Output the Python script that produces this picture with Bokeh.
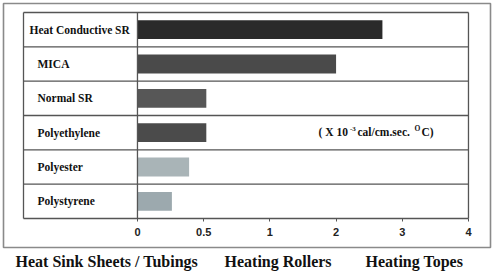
import numpy as np
from bokeh.plotting import figure
from bokeh.models import Range1d, LinearAxis, FixedTicker, ColumnDataSource
from bokeh.core.properties import value
from bokeh.embed import file_html
from bokeh.resources import INLINE

# ---- data ----
categories = ["Heat Conductive SR", "MICA", "Normal SR", "Polyethylene", "Polyester", "Polystyrene"]
conductivity = [2.70, 2.00, 0.52, 0.52, 0.39, 0.26]          # x 10^-3 cal/cm.sec.°C
tick_values = [0, 0.5, 1, 2, 3, 4]
tick_labels = ["0", "0.5", "1", "2", "3", "4"]
bar_colors = ["#2a2a2a", "#4a4a4a", "#575757", "#4b4b4b", "#a9b4b7", "#9ca9ae"]
label_indent = [6, 14, 14, 14, 14, 14]
group_labels = ["Heat Sink Sheets / Tubings", "Heating Rollers", "Heating Topes"]

W, H = 493, 271
# axis is evenly spaced between the tick values (piecewise scale)
tick_pos = np.arange(len(tick_values), dtype=float)
X0, X1 = -2.069, 5.378
Y0, Y1 = -1.544, 6.350

def px_x(px):
    return X0 + px / W * (X1 - X0)

def px_y(py):
    return Y1 - py / H * (Y1 - Y0)

n = len(categories)
row_y = [n - 0.5 - i for i in range(n)]
bar_right = np.interp(conductivity, tick_values, tick_pos)
label_left = px_x(23)

p = figure(width=W, height=H, x_range=Range1d(X0, X1), y_range=Range1d(Y0, Y1),
           x_axis_type=None, y_axis_type=None, toolbar_location=None,
           output_backend="svg", min_border=0)
p.outline_line_color = None
p.background_fill_color = "white"
p.border_fill_color = "white"

# outer frame
p.quad(left=[px_x(3)], right=[px_x(490)], top=[px_y(3)], bottom=[px_y(247)],
       fill_color=None, line_color="#8a8a8a", line_width=1.6)

# bars
src = ColumnDataSource(dict(y=row_y, right=bar_right, color=bar_colors,
                            cat=categories, indent=label_indent,
                            lx=[label_left] * n))
p.hbar(y="y", left=0, right="right", height=0.55, fill_color="color",
       line_color=None, source=src)

# table lines
hx0 = [label_left] * (n + 1)
hx1 = [tick_pos[-1]] * (n + 1)
hy = list(range(n + 1))
p.segment(x0=hx0, y0=hy, x1=hx1, y1=hy, line_color="#555555", line_width=1.3)
vx = [label_left, 0, tick_pos[-1]]
p.segment(x0=vx, y0=[0] * 3, x1=vx, y1=[n] * 3, line_color="#555555", line_width=1.3)

# category labels
p.text(x="lx", y="y", text="cat", x_offset="indent", source=src,
       text_align="left", text_baseline="middle",
       text_font=value("Liberation Serif"), text_font_style="bold",
       text_font_size="11.5px", text_color="#111111")

# unit note
note_y = px_y(131)
note_parts = [("( X 10", 318, 0, "11.5px"), ("-3", 349.5, -3, "7px"),
              ("cal/cm.sec.", 357, 0, "11.5px"), ("O", 414, -3, "7.5px"),
              ("C)", 421, 0, "11.5px")]
for txt, xpx, dy, fs in note_parts:
    p.text(x=[px_x(xpx)], y=[note_y], text=[txt], y_offset=dy,
           text_align="left", text_baseline="middle",
           text_font=value("Liberation Serif"), text_font_style="bold",
           text_font_size=fs, text_color="#111111")

# group labels under the chart
p.text(x=[px_x(15), px_x(224), px_x(365)], y=[px_y(261)] * 3, text=group_labels,
       text_align="left", text_baseline="middle",
       text_font=value("Liberation Serif"), text_font_style="bold",
       text_font_size="16px", text_color="#111111")

# x axis fixed on the table bottom
ax = LinearAxis(fixed_location=0, ticker=FixedTicker(ticks=list(tick_pos)),
                major_label_overrides={float(t): l for t, l in zip(tick_pos, tick_labels)})
ax.axis_line_color = None
ax.major_tick_in = 0
ax.major_tick_out = 3
ax.major_tick_line_color = "#555555"
ax.minor_tick_line_color = None
ax.major_label_standoff = 7
ax.major_label_text_font = "Liberation Sans"
ax.major_label_text_font_style = "bold"
ax.major_label_text_font_size = "11px"
ax.major_label_text_color = "#222222"
p.add_layout(ax, "below")

open("out.html", "w").write(file_html(p, INLINE))
